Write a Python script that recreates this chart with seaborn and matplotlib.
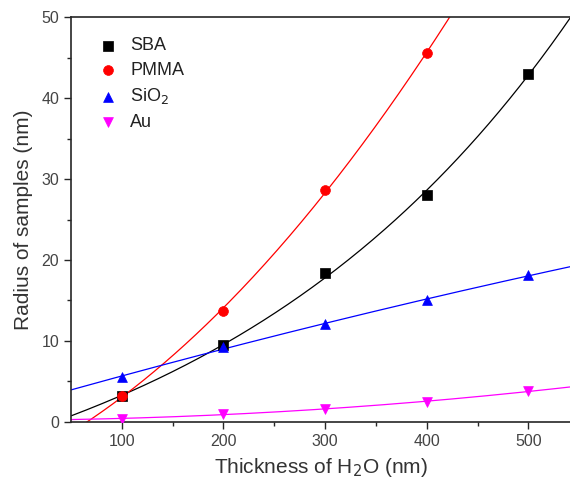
import numpy as np
import pandas as pd
import matplotlib
matplotlib.use("Agg")
import matplotlib.pyplot as plt
import seaborn as sns

# data
thickness = [100, 200, 300, 400, 500]
sba = [3.2, 9.5, 18.4, 28.0, 43.0]
pmma = [3.2, 13.7, 28.7, 45.5]
sio2 = [5.6, 9.2, 12.1, 15.1, 18.1]
au = [0.4, 1.0, 1.6, 2.5, 3.8]

series = [
    ("SBA", sba, "black", "s", "exp"),
    ("PMMA", pmma, "red", "o", "poly"),
    ("SiO$_2$", sio2, "blue", "^", "poly"),
    ("Au", au, "magenta", "v", "poly"),
]


def exp_fit(xs, ys, xnew):
    # y = y0 + A*exp(x/t), scan t and solve the linear part
    xs = np.asarray(xs, float)
    ys = np.asarray(ys, float)
    best = None
    for t in np.linspace(100, 2000, 400):
        M = np.column_stack([np.ones_like(xs), np.exp(xs / t)])
        c, res, *_ = np.linalg.lstsq(M, ys, rcond=None)
        err = np.sum((M @ c - ys) ** 2)
        if best is None or err < best[0]:
            best = (err, t, c)
    _, t, c = best
    return c[0] + c[1] * np.exp(xnew / t)


sns.set_style("ticks")
plt.rcParams['font.family'] = ['Liberation Sans', 'DejaVu Sans']

fig = plt.figure(figsize=(5.7, 4.82), dpi=100)
ax = fig.add_axes([0.1246, 0.1245, 0.8754, 0.8402])

xfit = np.linspace(50, 560, 300)
for name, vals, color, marker, kind in series:
    xs = thickness[:len(vals)]
    if kind == "exp":
        yfit = exp_fit(xs, vals, xfit)
    else:
        yfit = np.polyval(np.polyfit(xs, vals, 2), xfit)
    fit = pd.DataFrame({"x": xfit, "y": yfit})
    sns.lineplot(data=fit, x="x", y="y", color=color, lw=0.9, ax=ax)
    pts = pd.DataFrame({"x": xs, "y": vals})
    sns.scatterplot(data=pts, x="x", y="y", color=color, marker=marker,
                    s=50, edgecolor=color, linewidth=0.5, label=name, ax=ax, zorder=3)

ax.set_xlim(50, 541)
ax.set_ylim(0, 50)
ax.set_xticks([100, 200, 300, 400, 500])
ax.set_xticks([150, 250, 350, 450], minor=True)
ax.set_yticks([0, 10, 20, 30, 40, 50])
ax.set_yticks([5, 15, 25, 35, 45], minor=True)
ax.tick_params(which="major", direction="out", length=5, width=1, labelsize=11.5, labelcolor="#444444")
ax.tick_params(which="minor", direction="out", length=3, width=1)
ax.spines["right"].set_visible(False)
for s in ["left", "bottom", "top"]:
    ax.spines[s].set_linewidth(1.2)

ax.set_xlabel("Thickness of H$_2$O (nm)", fontsize=15, color="#333333", labelpad=5)
ax.set_ylabel("Radius of samples (nm)", fontsize=15, color="#333333", labelpad=6)

leg = ax.legend(loc="upper left", bbox_to_anchor=(0.005, 0.99), frameon=False,
                fontsize=13, handletextpad=0.25, labelspacing=0.42)
for t in leg.get_texts():
    t.set_color("#222222")

fig.savefig("out.png", dpi=100)
